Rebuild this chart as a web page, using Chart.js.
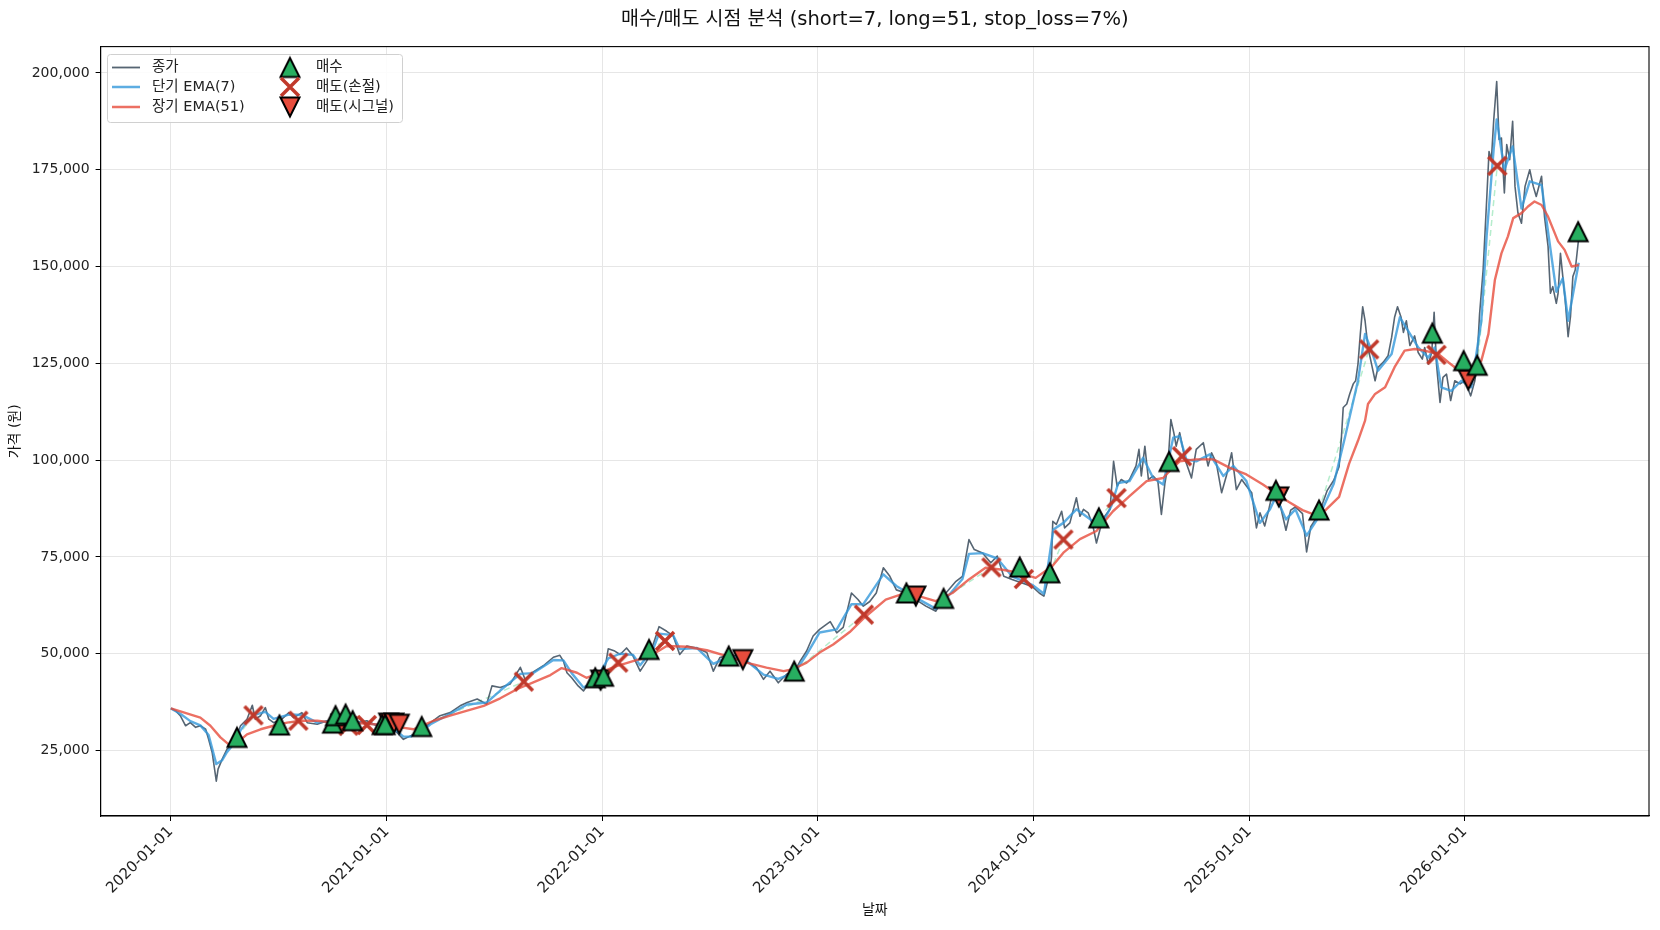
<!DOCTYPE html>
<html>
<head>
<meta charset="utf-8">
<script src="https://cdn.jsdelivr.net/npm/chart.js@4.4.1/dist/chart.umd.min.js"></script>
<style>
html,body{margin:0;padding:0;background:#fff}
#wrap{width:1660px;height:930px}
</style>
</head>
<body>
<div id="wrap"><canvas id="chart" width="1660" height="930"></canvas></div>
<script>
const FONT = '"DejaVu Sans", "Noto Sans CJK KR", sans-serif';
const TITLE = '매수/매도 시점 분석 (short=7, long=51, stop_loss=7%)';

// x values are days counted from 2020-01-01
const yearTickDays = [0, 366, 731, 1096, 1461, 1827, 2192];
const yearTickLabels = ['2020-01-01','2021-01-01','2022-01-01','2023-01-01','2024-01-01','2025-01-01','2026-01-01'];
const priceTicks = [25000, 50000, 75000, 100000, 125000, 150000, 175000, 200000];

// 종가
const closeDays = [0,8,16,25,33,42,50,59,64,70,77,80,87,95,107,118,129,138,143,152,160,166,174,188,200,208,222,231,248,265,282,299,315,332,349,366,383,394,406,423,440,456,473,490,502,519,535,544,558,575,592,600,614,631,648,659,665,671,679,690,699,707,719,727,736,741,752,761,772,783,795,806,817,827,840,851,862,874,891,908,919,930,947,958,975,992,1004,1015,1029,1043,1057,1066,1077,1088,1099,1117,1128,1139,1153,1164,1173,1184,1195,1207,1218,1229,1245,1262,1279,1296,1313,1330,1341,1352,1361,1375,1389,1400,1411,1425,1442,1459,1471,1479,1489,1492,1494,1500,1509,1514,1523,1534,1540,1546,1554,1562,1568,1574,1582,1591,1597,1603,1610,1619,1624,1635,1640,1644,1650,1656,1664,1672,1678,1684,1689,1694,1699,1703,1709,1718,1729,1737,1749,1757,1763,1771,1780,1788,1797,1805,1814,1822,1831,1839,1845,1853,1860,1866,1872,1880,1889,1897,1905,1917,1924,1931,1945,1959,1970,1979,1983,1986,1992,1997,2003,2007,2011,2015,2019,2023,2028,2034,2040,2045,2054,2062,2068,2073,2078,2084,2088,2093,2099,2107,2113,2120,2124,2130,2136,2140,2144,2150,2155,2161,2168,2175,2184,2192,2202,2209,2212,2217,2223,2229,2233,2237,2241,2246,2250,2254,2259,2263,2268,2273,2277,2282,2288,2294,2302,2308,2313,2322,2327,2333,2337,2341,2347,2350,2354,2358,2362,2367,2371,2375,2379,2385];
const closeValues = [35900,35300,34000,31400,32200,31000,31400,30500,27900,24500,17100,20200,22800,25300,27000,31400,33100,36700,33100,34000,36100,33100,32200,33100,34800,33500,34800,32200,31800,32700,33100,32700,32200,32700,31400,31400,29650,27900,28800,30100,32200,34000,34800,36550,37400,38300,37000,41700,41300,42200,46500,43400,45300,46900,49100,49600,48100,45100,43800,41700,40400,42100,43400,43000,46800,51300,50700,49800,51500,49400,45500,48100,52400,57000,55800,54600,49800,52000,51500,50300,45500,49000,49800,49400,48100,46400,43400,45500,42500,44700,45500,48100,50700,54600,56300,58300,55400,56800,65700,64000,62300,63500,65700,72200,70000,66500,65700,64000,62300,61000,65700,68700,70000,79500,76900,76000,73500,75200,70000,69200,68300,67400,65700,64900,70900,75200,84200,83400,86800,82500,83800,90300,85500,87300,86400,83000,78600,82100,85500,87300,99700,93300,95000,94100,95000,98500,102800,95900,103600,95000,95900,94600,86000,94100,98500,110500,107100,103600,107100,100200,95400,102800,104500,98500,101900,99300,91600,95900,101900,92400,95000,93300,91600,82500,86400,83000,87300,91400,92200,87900,81900,87100,87900,86200,76300,82800,86200,92200,94800,98300,105900,113600,114500,117100,119700,120500,124800,132600,139600,136000,129100,124800,120500,124000,125300,127000,131700,136900,139600,136900,133000,136000,129600,132100,127800,126100,129100,124800,127800,138200,124800,114900,121400,122200,115400,120500,119700,120500,116600,120500,124000,137700,149100,167200,179700,177600,187900,197800,182800,183200,169000,181500,177600,187500,170700,163800,161200,170700,175000,170700,168100,173300,162900,155200,143100,144800,140500,143100,153400,147400,141400,131900,137100,147400,149100,157500];

// 단기 EMA(7)
const shortEmaDays = [0,16,33,50,64,77,87,95,107,118,129,143,160,174,200,222,248,282,315,349,366,383,394,406,423,440,473,502,535,558,592,614,648,665,679,699,719,741,761,783,795,817,827,851,862,891,919,947,975,1004,1029,1057,1077,1099,1128,1153,1173,1207,1229,1262,1296,1313,1341,1352,1375,1400,1425,1459,1479,1495,1512,1534,1562,1576,1593,1605,1624,1647,1664,1681,1698,1709,1720,1737,1760,1783,1800,1822,1845,1862,1872,1889,1905,1924,1945,1970,1989,2011,2023,2034,2045,2068,2082,2096,2113,2130,2141,2152,2169,2186,2203,2220,2229,2241,2246,2259,2273,2288,2302,2322,2333,2347,2358,2367,2379,2385];
const shortEmaValues = [35900,34500,32600,31500,29000,21500,22500,24600,26800,30200,32600,34300,35000,33200,34300,34200,32200,32900,32400,31700,31300,30000,28600,28600,29800,31800,34500,36900,37400,40500,44800,45000,48400,48300,45000,41300,43000,48800,50000,49700,47000,51200,55200,54800,51200,51500,47400,49400,48200,44600,43500,45200,49800,55500,56300,62800,62800,70500,67500,64500,61600,64200,69300,75800,76000,74600,70000,67800,65500,82100,83800,87300,84200,83000,88100,94100,94600,100600,95400,93700,105800,106200,100200,99700,101500,95900,98500,94600,83800,87300,90600,84700,87300,80500,85400,93900,105900,120500,132600,128300,123100,127400,136900,133400,129100,126500,129100,118800,117900,120500,118800,136000,158000,180500,188000,175000,181000,165000,172000,171000,159000,143500,147000,136000,146000,151000];

// 장기 EMA(51)
const longEmaDays = [0,50,67,84,98,112,129,152,174,197,220,248,276,310,344,366,389,411,445,473,502,530,558,587,614,643,662,688,704,727,755,783,812,840,874,908,942,975,1009,1038,1054,1077,1099,1122,1150,1176,1211,1245,1267,1296,1324,1352,1380,1409,1437,1465,1493,1512,1540,1568,1596,1624,1653,1681,1692,1709,1737,1766,1794,1822,1850,1872,1894,1917,1939,1956,1979,1996,2011,2023,2028,2040,2057,2073,2090,2107,2124,2147,2164,2181,2203,2220,2232,2243,2254,2265,2274,2288,2299,2310,2322,2333,2350,2361,2373,2385];
const longEmaValues = [35900,33500,31400,28400,26600,27000,29200,30500,31400,32200,32700,32700,32200,32200,31800,31400,31000,30500,32700,34000,35300,36550,38500,40900,42600,44500,46300,45100,43800,45100,46800,48100,49400,52000,51800,50900,49400,47700,46400,45500,46000,47700,50300,52400,55600,59500,64000,65700,64900,63600,65700,69200,72200,71700,70900,69600,72600,76100,79600,81700,86800,90700,94600,95400,97200,99700,100200,100200,98000,96300,93700,91400,89200,87100,85800,87100,90500,99100,105000,110200,114500,117100,118800,124000,128300,128700,128300,127400,125300,123300,122700,125700,132600,146600,153400,157800,162500,163800,165500,166800,165900,162900,156500,154300,150000,150400];

// 매수
const buyDays = [112,184,274,279,296,308,358,363,425,719,733,810,945,1056,1246,1309,1438,1489,1572,1691,1872,1945,2137,2190,2213,2384];
const buyValues = [28400,31600,32100,34000,34400,32700,31700,31700,31200,43800,44200,51100,49400,45500,65700,64300,72400,70900,85100,99650,92200,87100,132800,125700,124500,159000];
// 매도(손절)
const stopDays = [140,216,301,332,598,758,837,1174,1390,1445,1512,1602,1713,2030,2144,2247];
const stopValues = [34100,32700,31400,31600,42800,47700,53300,60100,72300,69300,79500,90200,101000,128600,127200,176000];
// 매도(시그널)
const signalDays = [288,369,378,387,728,969,1262,1877,2198];
const signalValues = [31800,32100,32100,31800,43200,48500,64900,90500,120700];

const pts = (days, vals) => days.map((d, i) => ({x: d, y: vals[i]}));

// profitable trades get a faint dashed link from buy to the next sell
const sells = pts(stopDays, stopValues).concat(pts(signalDays, signalValues)).sort((a, b) => a.x - b.x);
const tradeLinks = [];
buyDays.forEach((d, i) => {
  const s = sells.find(p => p.x > d);
  if (s && s.y > buyValues[i]) tradeLinks.push({x: d, y: buyValues[i]}, {x: s.x, y: s.y}, {x: s.x, y: null});
});

function marker(kind){
  const c = document.createElement('canvas'); c.width = c.height = 26;
  const g = c.getContext('2d');
  if (kind === 'x') {
    g.strokeStyle = '#c0392b'; g.lineWidth = 3.5;
    g.beginPath(); g.moveTo(4, 4); g.lineTo(22, 22); g.moveTo(22, 4); g.lineTo(4, 22); g.stroke();
  } else {
    const up = kind === 'up';
    g.beginPath();
    if (up) { g.moveTo(13, 3.5); g.lineTo(3.5, 22.5); g.lineTo(22.5, 22.5); }
    else { g.moveTo(13, 22.5); g.lineTo(3.5, 3.5); g.lineTo(22.5, 3.5); }
    g.closePath();
    g.fillStyle = up ? '#27ae60' : '#e74c3c'; g.fill();
    g.lineWidth = 2; g.strokeStyle = '#000'; g.stroke();
  }
  return c;
}
const mkUp = marker('up'), mkX = marker('x'), mkDown = marker('down');

const CLOSE_C = 'rgba(44,62,80,0.8)', SHORT_C = 'rgba(52,152,219,0.8)', LONG_C = 'rgba(231,76,60,0.8)';

const decor = {
  id: 'decor',
  afterDatasetsDraw(chart){
    const {ctx, chartArea: a} = chart;
    ctx.save();
    // frame
    ctx.strokeStyle = '#000'; ctx.lineWidth = 1.1;
    ctx.strokeRect(a.left, a.top, a.right - a.left, a.bottom - a.top);
    // legend
    const bx = 107.5, by = 54.5, bw = 295, bh = 68;
    ctx.fillStyle = 'rgba(255,255,255,0.85)'; ctx.strokeStyle = '#d0d0d0'; ctx.lineWidth = 1;
    ctx.beginPath(); ctx.roundRect(bx, by, bw, bh, 3); ctx.fill(); ctx.stroke();
    const rows = [67.5, 87, 107];
    const lines = [['종가', CLOSE_C, 1.8], ['단기 EMA(7)', SHORT_C, 2.5], ['장기 EMA(51)', LONG_C, 2.5]];
    const marks = [['매수', mkUp], ['매도(손절)', mkX], ['매도(시그널)', mkDown]];
    ctx.font = '14.5px ' + FONT; ctx.textBaseline = 'middle'; ctx.textAlign = 'left';
    lines.forEach(([t, c, w], i) => {
      ctx.strokeStyle = c; ctx.lineWidth = w;
      ctx.beginPath(); ctx.moveTo(112, rows[i]); ctx.lineTo(140, rows[i]); ctx.stroke();
      ctx.fillStyle = '#222'; ctx.fillText(t, 152, rows[i]);
    });
    marks.forEach(([t, m], i) => {
      ctx.drawImage(m, 290 - 13, rows[i] - 13);
      ctx.fillStyle = '#222'; ctx.fillText(t, 316, rows[i]);
    });
    ctx.restore();
  },
  afterDraw(chart){
    const {ctx, chartArea: a} = chart;
    ctx.save();
    ctx.fillStyle = '#111'; ctx.textAlign = 'center'; ctx.textBaseline = 'middle';
    ctx.font = '19.5px ' + FONT;
    ctx.fillText(TITLE, (a.left + a.right) / 2, 20);
    ctx.font = '14px ' + FONT;
    ctx.fillText('날짜', (a.left + a.right) / 2, 910);
    ctx.translate(15, (a.top + a.bottom) / 2); ctx.rotate(-Math.PI / 2);
    ctx.fillText('가격 (원)', 0, 0);
    ctx.restore();
  }
};

new Chart(document.getElementById('chart'), {
  type: 'line',
  data: {
    datasets: [
      {label: '매수', data: pts(buyDays, buyValues), showLine: false, pointStyle: mkUp, pointRadius: 10, order: 0},
      {label: '매도(손절)', data: pts(stopDays, stopValues), showLine: false, pointStyle: mkX, pointRadius: 10, order: 1},
      {label: '매도(시그널)', data: pts(signalDays, signalValues), showLine: false, pointStyle: mkDown, pointRadius: 10, order: 2},
      {label: '장기 EMA(51)', data: pts(longEmaDays, longEmaValues), borderColor: LONG_C, borderWidth: 2.4, pointRadius: 0, order: 3},
      {label: '단기 EMA(7)', data: pts(shortEmaDays, shortEmaValues), borderColor: SHORT_C, borderWidth: 2.4, pointRadius: 0, order: 4},
      {label: '종가', data: pts(closeDays, closeValues), borderColor: CLOSE_C, borderWidth: 1.6, pointRadius: 0, order: 5},
      {label: 'trades', data: tradeLinks, borderColor: 'rgba(46,204,113,0.35)', borderWidth: 1.5, borderDash: [6, 4], pointRadius: 0, spanGaps: false, order: 6}
    ]
  },
  options: {
    responsive: false, animation: false, devicePixelRatio: 1,
    layout: {padding: {left: 0, right: 10.5, top: 46.6, bottom: 0}},
    plugins: {legend: {display: false}, tooltip: {enabled: false}, title: {display: false}},
    elements: {line: {tension: 0, borderJoinStyle: 'round'}},
    scales: {
      x: {
        type: 'linear', min: -119, max: 2504,
        afterBuildTicks: s => { s.ticks = yearTickDays.map(v => ({value: v})); },
        afterFit: s => { s.height = 114; },
        ticks: {autoSkip: false, minRotation: 45, maxRotation: 45, padding: 2, color: '#222',
          font: {family: FONT, size: 15}, callback: (v, i) => yearTickLabels[i]},
        grid: {color: '#e6e6e6', lineWidth: 1, tickColor: '#000', tickLength: 5},
        border: {display: true, color: '#000', width: 1.1}
      },
      y: {
        type: 'linear', min: 8100, max: 206800,
        afterBuildTicks: s => { s.ticks = priceTicks.map(v => ({value: v})); },
        afterFit: s => { s.width = 100.6; },
        ticks: {padding: 6, color: '#222', font: {family: FONT, size: 14},
          callback: v => v.toLocaleString('en-US')},
        grid: {color: '#e6e6e6', lineWidth: 1, tickColor: '#000', tickLength: 5},
        border: {display: true, color: '#000', width: 1.1}
      }
    }
  },
  plugins: [decor]
});
</script>
</body>
</html>
